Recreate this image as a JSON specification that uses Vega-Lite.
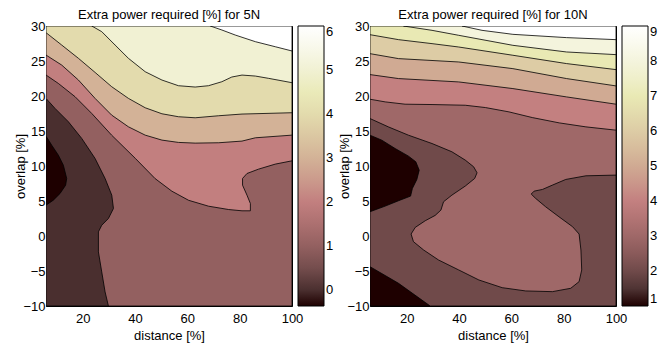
{
  "$schema": "https://vega.github.io/schema/vega-lite/v6.json",
  "padding": {"left": 14, "top": 8, "right": 0, "bottom": 0},
  "bounds": "flush",
  "spacing": 78,
  "config": {
    "font": "Liberation Sans",
    "view": {"stroke": "black", "strokeWidth": 1},
    "axis": {
      "labelFont": "Liberation Sans", "labelFontSize": 13, "labelColor": "black", "labelFlush": false,
      "titleFont": "Liberation Sans", "titleFontSize": 13, "titleFontWeight": "normal", "titleColor": "black",
      "grid": true, "gridColor": "black", "gridDash": [1, 3], "gridOpacity": 1, "gridWidth": 0.8,
      "domain": false, "ticks": true, "tickSize": -3, "tickColor": "black", "tickWidth": 0.8, "zindex": 1
    },
    "axisX": {"labelPadding": 9, "titlePadding": 4},
    "axisY": {"labelPadding": 4, "titleX": -18.5},
    "title": {"font": "Liberation Sans", "fontSize": 13, "fontWeight": "normal", "color": "black", "offset": -2},
    "legend": {
      "labelFont": "Liberation Sans", "labelFontSize": 13, "labelColor": "black", "labelBaseline": "middle",
      "gradientStrokeColor": "black", "gradientStrokeWidth": 1, "labelOverlap": false, "labelOffset": 4
    }
  },
  "datasets": {
    "p5": [
      {"id": "a0", "level": -0.36, "i": 0, "x": 6, "y": -10},
      {"id": "a0", "level": -0.36, "i": 1, "x": 100, "y": -10},
      {"id": "a0", "level": -0.36, "i": 2, "x": 100, "y": 30},
      {"id": "a0", "level": -0.36, "i": 3, "x": 6, "y": 30},

      {"id": "a1", "level": 0, "i": 0, "x": 6, "y": -10},
      {"id": "a1", "level": 0, "i": 1, "x": 100, "y": -10},
      {"id": "a1", "level": 0, "i": 2, "x": 100, "y": 30},
      {"id": "a1", "level": 0, "i": 3, "x": 6, "y": 30},
      {"id": "a1", "level": 0, "i": 4, "x": 6, "y": 14.27},
      {"id": "a1", "level": 0, "i": 5, "x": 8.17, "y": 12.98},
      {"id": "a1", "level": 0, "i": 6, "x": 10.72, "y": 11.55},
      {"id": "a1", "level": 0, "i": 7, "x": 12.63, "y": 10.12},
      {"id": "a1", "level": 0, "i": 8, "x": 13.9, "y": 8.22},
      {"id": "a1", "level": 0, "i": 9, "x": 13.5, "y": 7.26},
      {"id": "a1", "level": 0, "i": 10, "x": 11.36, "y": 6.07},
      {"id": "a1", "level": 0, "i": 11, "x": 8.8, "y": 5.12},
      {"id": "a1", "level": 0, "i": 12, "x": 6, "y": 4.4},

      {"id": "a2", "level": 1, "i": 0, "x": 6, "y": 19.66},
      {"id": "a2", "level": 1, "i": 1, "x": 9.44, "y": 18.23},
      {"id": "a2", "level": 1, "i": 2, "x": 14.55, "y": 16.32},
      {"id": "a2", "level": 1, "i": 3, "x": 19.65, "y": 13.94},
      {"id": "a2", "level": 1, "i": 4, "x": 24.75, "y": 11.08},
      {"id": "a2", "level": 1, "i": 5, "x": 28.58, "y": 8.22},
      {"id": "a2", "level": 1, "i": 6, "x": 31.13, "y": 5.83},
      {"id": "a2", "level": 1, "i": 7, "x": 31.77, "y": 3.93},
      {"id": "a2", "level": 1, "i": 8, "x": 29.85, "y": 2.5},
      {"id": "a2", "level": 1, "i": 9, "x": 27.3, "y": 1.54},
      {"id": "a2", "level": 1, "i": 10, "x": 26.03, "y": 0.59},
      {"id": "a2", "level": 1, "i": 11, "x": 26.03, "y": -2.27},
      {"id": "a2", "level": 1, "i": 12, "x": 27.3, "y": -5.13},
      {"id": "a2", "level": 1, "i": 13, "x": 28.58, "y": -7.99},
      {"id": "a2", "level": 1, "i": 14, "x": 29.85, "y": -10},
      {"id": "a2", "level": 1, "i": 15, "x": 100, "y": -10},
      {"id": "a2", "level": 1, "i": 16, "x": 100, "y": 30},
      {"id": "a2", "level": 1, "i": 17, "x": 6, "y": 30},

      {"id": "a3", "level": 2, "i": 0, "x": 6, "y": 23.0},
      {"id": "a3", "level": 2, "i": 1, "x": 10.7, "y": 21.8},
      {"id": "a3", "level": 2, "i": 2, "x": 17.1, "y": 19.9},
      {"id": "a3", "level": 2, "i": 3, "x": 23.5, "y": 17.5},
      {"id": "a3", "level": 2, "i": 4, "x": 31.1, "y": 14.4},
      {"id": "a3", "level": 2, "i": 5, "x": 40.1, "y": 11.1},
      {"id": "a3", "level": 2, "i": 6, "x": 47.7, "y": 8.2},
      {"id": "a3", "level": 2, "i": 7, "x": 54.1, "y": 6.4},
      {"id": "a3", "level": 2, "i": 8, "x": 60.5, "y": 5.1},
      {"id": "a3", "level": 2, "i": 9, "x": 68.1, "y": 4.26},
      {"id": "a3", "level": 2, "i": 10, "x": 75.8, "y": 3.78},
      {"id": "a3", "level": 2, "i": 11, "x": 80.9, "y": 3.6},
      {"id": "a3", "level": 2, "i": 12, "x": 84.1, "y": 3.6},
      {"id": "a3", "level": 2, "i": 13, "x": 84.1, "y": 4.64},
      {"id": "a3", "level": 2, "i": 14, "x": 82.8, "y": 5.83},
      {"id": "a3", "level": 2, "i": 15, "x": 81.1, "y": 7.26},
      {"id": "a3", "level": 2, "i": 16, "x": 81.1, "y": 8.22},
      {"id": "a3", "level": 2, "i": 17, "x": 82.8, "y": 8.93},
      {"id": "a3", "level": 2, "i": 18, "x": 87.2, "y": 9.55},
      {"id": "a3", "level": 2, "i": 19, "x": 93.6, "y": 10.27},
      {"id": "a3", "level": 2, "i": 20, "x": 100, "y": 10.74},
      {"id": "a3", "level": 2, "i": 21, "x": 100, "y": 30},
      {"id": "a3", "level": 2, "i": 22, "x": 6, "y": 30},

      {"id": "a4", "level": 3, "i": 0, "x": 6, "y": 25.85},
      {"id": "a4", "level": 3, "i": 1, "x": 12.0, "y": 24.42},
      {"id": "a4", "level": 3, "i": 2, "x": 18.4, "y": 22.28},
      {"id": "a4", "level": 3, "i": 3, "x": 24.75, "y": 19.66},
      {"id": "a4", "level": 3, "i": 4, "x": 31.1, "y": 17.27},
      {"id": "a4", "level": 3, "i": 5, "x": 37.5, "y": 15.6},
      {"id": "a4", "level": 3, "i": 6, "x": 43.9, "y": 14.41},
      {"id": "a4", "level": 3, "i": 7, "x": 50.3, "y": 13.7},
      {"id": "a4", "level": 3, "i": 8, "x": 56.6, "y": 13.37},
      {"id": "a4", "level": 3, "i": 9, "x": 63.0, "y": 13.27},
      {"id": "a4", "level": 3, "i": 10, "x": 72.0, "y": 13.32},
      {"id": "a4", "level": 3, "i": 11, "x": 80.9, "y": 13.56},
      {"id": "a4", "level": 3, "i": 12, "x": 86.0, "y": 14.03},
      {"id": "a4", "level": 3, "i": 13, "x": 100, "y": 14.41},
      {"id": "a4", "level": 3, "i": 14, "x": 100, "y": 30},
      {"id": "a4", "level": 3, "i": 15, "x": 6, "y": 30},

      {"id": "a5", "level": 4, "i": 0, "x": 6, "y": 29.05},
      {"id": "a5", "level": 4, "i": 1, "x": 12.0, "y": 27.28},
      {"id": "a5", "level": 4, "i": 2, "x": 18.4, "y": 25.38},
      {"id": "a5", "level": 4, "i": 3, "x": 24.75, "y": 23.37},
      {"id": "a5", "level": 4, "i": 4, "x": 31.1, "y": 21.33},
      {"id": "a5", "level": 4, "i": 5, "x": 37.5, "y": 19.66},
      {"id": "a5", "level": 4, "i": 6, "x": 43.9, "y": 18.32},
      {"id": "a5", "level": 4, "i": 7, "x": 50.3, "y": 17.46},
      {"id": "a5", "level": 4, "i": 8, "x": 56.6, "y": 17.04},
      {"id": "a5", "level": 4, "i": 9, "x": 63.0, "y": 16.89},
      {"id": "a5", "level": 4, "i": 10, "x": 72.0, "y": 17.18},
      {"id": "a5", "level": 4, "i": 11, "x": 80.9, "y": 17.42},
      {"id": "a5", "level": 4, "i": 12, "x": 100, "y": 17.61},
      {"id": "a5", "level": 4, "i": 13, "x": 100, "y": 30},
      {"id": "a5", "level": 4, "i": 14, "x": 6, "y": 30},

      {"id": "a6", "level": 5, "i": 0, "x": 23.5, "y": 30},
      {"id": "a6", "level": 5, "i": 1, "x": 27.3, "y": 29.19},
      {"id": "a6", "level": 5, "i": 2, "x": 32.4, "y": 27.28},
      {"id": "a6", "level": 5, "i": 3, "x": 37.5, "y": 25.38},
      {"id": "a6", "level": 5, "i": 4, "x": 43.9, "y": 23.47},
      {"id": "a6", "level": 5, "i": 5, "x": 50.3, "y": 22.28},
      {"id": "a6", "level": 5, "i": 6, "x": 56.6, "y": 21.47},
      {"id": "a6", "level": 5, "i": 7, "x": 63.0, "y": 21.28},
      {"id": "a6", "level": 5, "i": 8, "x": 68.1, "y": 21.47},
      {"id": "a6", "level": 5, "i": 9, "x": 73.2, "y": 22.04},
      {"id": "a6", "level": 5, "i": 10, "x": 77.0, "y": 22.71},
      {"id": "a6", "level": 5, "i": 11, "x": 80.9, "y": 22.99},
      {"id": "a6", "level": 5, "i": 12, "x": 86.0, "y": 22.85},
      {"id": "a6", "level": 5, "i": 13, "x": 91.1, "y": 22.52},
      {"id": "a6", "level": 5, "i": 14, "x": 100, "y": 21.9},
      {"id": "a6", "level": 5, "i": 15, "x": 100, "y": 30},

      {"id": "a7", "level": 6, "i": 0, "x": 68.8, "y": 30},
      {"id": "a7", "level": 6, "i": 1, "x": 73.2, "y": 29.43},
      {"id": "a7", "level": 6, "i": 2, "x": 78.3, "y": 28.71},
      {"id": "a7", "level": 6, "i": 3, "x": 86.0, "y": 27.76},
      {"id": "a7", "level": 6, "i": 4, "x": 93.6, "y": 27.04},
      {"id": "a7", "level": 6, "i": 5, "x": 100, "y": 26.43},
      {"id": "a7", "level": 6, "i": 6, "x": 100, "y": 30}
    ],
    "p10": [
      {"id": "b1", "level": 1, "i": 0, "x": 6, "y": -10},
      {"id": "b1", "level": 1, "i": 1, "x": 100, "y": -10},
      {"id": "b1", "level": 1, "i": 2, "x": 100, "y": 30},
      {"id": "b1", "level": 1, "i": 3, "x": 6, "y": 30},

      {"id": "b2", "level": 2, "i": 0, "x": 6, "y": -4.38},
      {"id": "b2", "level": 2, "i": 1, "x": 16.9, "y": -6.76},
      {"id": "b2", "level": 2, "i": 2, "x": 29.0, "y": -10},
      {"id": "b2", "level": 2, "i": 3, "x": 100, "y": -10},
      {"id": "b2", "level": 2, "i": 4, "x": 100, "y": 30},
      {"id": "b2", "level": 2, "i": 5, "x": 6, "y": 30},
      {"id": "b2", "level": 2, "i": 6, "x": 6, "y": 14.4},
      {"id": "b2", "level": 2, "i": 7, "x": 10.5, "y": 13.69},
      {"id": "b2", "level": 2, "i": 8, "x": 15.6, "y": 12.5},
      {"id": "b2", "level": 2, "i": 9, "x": 20.7, "y": 11.41},
      {"id": "b2", "level": 2, "i": 10, "x": 23.5, "y": 10.6},
      {"id": "b2", "level": 2, "i": 11, "x": 24.8, "y": 9.41},
      {"id": "b2", "level": 2, "i": 12, "x": 23.9, "y": 8.08},
      {"id": "b2", "level": 2, "i": 13, "x": 22.2, "y": 6.8},
      {"id": "b2", "level": 2, "i": 14, "x": 21.5, "y": 5.7},
      {"id": "b2", "level": 2, "i": 15, "x": 16.9, "y": 5.04},
      {"id": "b2", "level": 2, "i": 16, "x": 11.8, "y": 4.27},
      {"id": "b2", "level": 2, "i": 17, "x": 6, "y": 3.47},

      {"id": "b3", "level": 3, "i": 0, "x": 6, "y": 16.78},
      {"id": "b3", "level": 3, "i": 1, "x": 13.0, "y": 15.59},
      {"id": "b3", "level": 3, "i": 2, "x": 20.7, "y": 14.4},
      {"id": "b3", "level": 3, "i": 3, "x": 29.7, "y": 13.21},
      {"id": "b3", "level": 3, "i": 4, "x": 37.3, "y": 12.03},
      {"id": "b3", "level": 3, "i": 5, "x": 42.4, "y": 10.84},
      {"id": "b3", "level": 3, "i": 6, "x": 45.6, "y": 9.89},
      {"id": "b3", "level": 3, "i": 7, "x": 46.9, "y": 9.03},
      {"id": "b3", "level": 3, "i": 8, "x": 46.0, "y": 8.22},
      {"id": "b3", "level": 3, "i": 9, "x": 42.4, "y": 7.13},
      {"id": "b3", "level": 3, "i": 10, "x": 37.3, "y": 5.84},
      {"id": "b3", "level": 3, "i": 11, "x": 34.1, "y": 4.89},
      {"id": "b3", "level": 3, "i": 12, "x": 33.1, "y": 3.7},
      {"id": "b3", "level": 3, "i": 13, "x": 30.9, "y": 2.94},
      {"id": "b3", "level": 3, "i": 14, "x": 27.1, "y": 2.18},
      {"id": "b3", "level": 3, "i": 15, "x": 23.3, "y": 1.23},
      {"id": "b3", "level": 3, "i": 16, "x": 21.7, "y": 0.28},
      {"id": "b3", "level": 3, "i": 17, "x": 22.6, "y": -0.81},
      {"id": "b3", "level": 3, "i": 18, "x": 26.5, "y": -2.0},
      {"id": "b3", "level": 3, "i": 19, "x": 32.2, "y": -3.43},
      {"id": "b3", "level": 3, "i": 20, "x": 39.9, "y": -4.85},
      {"id": "b3", "level": 3, "i": 21, "x": 47.6, "y": -6.28},
      {"id": "b3", "level": 3, "i": 22, "x": 56.5, "y": -7.38},
      {"id": "b3", "level": 3, "i": 23, "x": 65.5, "y": -7.85},
      {"id": "b3", "level": 3, "i": 24, "x": 75.7, "y": -7.95},
      {"id": "b3", "level": 3, "i": 25, "x": 82.7, "y": -7.47},
      {"id": "b3", "level": 3, "i": 26, "x": 85.9, "y": -6.52},
      {"id": "b3", "level": 3, "i": 27, "x": 86.9, "y": -4.85},
      {"id": "b3", "level": 3, "i": 28, "x": 86.6, "y": -2.0},
      {"id": "b3", "level": 3, "i": 29, "x": 85.9, "y": 0.28},
      {"id": "b3", "level": 3, "i": 30, "x": 83.4, "y": 1.33},
      {"id": "b3", "level": 3, "i": 31, "x": 78.2, "y": 2.75},
      {"id": "b3", "level": 3, "i": 32, "x": 73.1, "y": 4.18},
      {"id": "b3", "level": 3, "i": 33, "x": 69.3, "y": 5.37},
      {"id": "b3", "level": 3, "i": 34, "x": 67.6, "y": 5.99},
      {"id": "b3", "level": 3, "i": 35, "x": 68.7, "y": 6.41},
      {"id": "b3", "level": 3, "i": 36, "x": 71.9, "y": 6.65},
      {"id": "b3", "level": 3, "i": 37, "x": 75.7, "y": 7.27},
      {"id": "b3", "level": 3, "i": 38, "x": 80.8, "y": 8.08},
      {"id": "b3", "level": 3, "i": 39, "x": 88.5, "y": 8.6},
      {"id": "b3", "level": 3, "i": 40, "x": 100, "y": 8.7},
      {"id": "b3", "level": 3, "i": 41, "x": 100, "y": 30},
      {"id": "b3", "level": 3, "i": 42, "x": 6, "y": 30},

      {"id": "b4", "level": 4, "i": 0, "x": 6, "y": 19.54},
      {"id": "b4", "level": 4, "i": 1, "x": 11.8, "y": 19.16},
      {"id": "b4", "level": 4, "i": 2, "x": 19.4, "y": 18.83},
      {"id": "b4", "level": 4, "i": 3, "x": 29.7, "y": 18.78},
      {"id": "b4", "level": 4, "i": 4, "x": 42.4, "y": 18.68},
      {"id": "b4", "level": 4, "i": 5, "x": 50.1, "y": 18.35},
      {"id": "b4", "level": 4, "i": 6, "x": 59.1, "y": 17.73},
      {"id": "b4", "level": 4, "i": 7, "x": 68.0, "y": 16.92},
      {"id": "b4", "level": 4, "i": 8, "x": 78.3, "y": 16.16},
      {"id": "b4", "level": 4, "i": 9, "x": 88.5, "y": 15.59},
      {"id": "b4", "level": 4, "i": 10, "x": 100, "y": 15.12},
      {"id": "b4", "level": 4, "i": 11, "x": 100, "y": 30},
      {"id": "b4", "level": 4, "i": 12, "x": 6, "y": 30},

      {"id": "b5", "level": 5, "i": 0, "x": 6, "y": 23.06},
      {"id": "b5", "level": 5, "i": 1, "x": 16.9, "y": 22.49},
      {"id": "b5", "level": 5, "i": 2, "x": 39.9, "y": 22.01},
      {"id": "b5", "level": 5, "i": 3, "x": 60.6, "y": 21.06},
      {"id": "b5", "level": 5, "i": 4, "x": 81.1, "y": 19.87},
      {"id": "b5", "level": 5, "i": 5, "x": 100, "y": 18.83},
      {"id": "b5", "level": 5, "i": 6, "x": 100, "y": 30},
      {"id": "b5", "level": 5, "i": 7, "x": 6, "y": 30},

      {"id": "b6", "level": 6, "i": 0, "x": 6, "y": 26.05},
      {"id": "b6", "level": 6, "i": 1, "x": 16.9, "y": 25.34},
      {"id": "b6", "level": 6, "i": 2, "x": 39.9, "y": 24.86},
      {"id": "b6", "level": 6, "i": 3, "x": 60.6, "y": 23.91},
      {"id": "b6", "level": 6, "i": 4, "x": 81.1, "y": 22.49},
      {"id": "b6", "level": 6, "i": 5, "x": 100, "y": 21.44},
      {"id": "b6", "level": 6, "i": 6, "x": 100, "y": 30},
      {"id": "b6", "level": 6, "i": 7, "x": 6, "y": 30},

      {"id": "b7", "level": 7, "i": 0, "x": 6, "y": 28.76},
      {"id": "b7", "level": 7, "i": 1, "x": 16.9, "y": 28.05},
      {"id": "b7", "level": 7, "i": 2, "x": 29.7, "y": 27.48},
      {"id": "b7", "level": 7, "i": 3, "x": 39.9, "y": 27.0},
      {"id": "b7", "level": 7, "i": 4, "x": 60.6, "y": 25.82},
      {"id": "b7", "level": 7, "i": 5, "x": 81.1, "y": 24.63},
      {"id": "b7", "level": 7, "i": 6, "x": 100, "y": 23.77},
      {"id": "b7", "level": 7, "i": 7, "x": 100, "y": 30},
      {"id": "b7", "level": 7, "i": 8, "x": 6, "y": 30},

      {"id": "b8", "level": 8, "i": 0, "x": 18.8, "y": 30},
      {"id": "b8", "level": 8, "i": 1, "x": 29.7, "y": 29.38},
      {"id": "b8", "level": 8, "i": 2, "x": 39.9, "y": 28.67},
      {"id": "b8", "level": 8, "i": 3, "x": 60.6, "y": 27.24},
      {"id": "b8", "level": 8, "i": 4, "x": 81.1, "y": 26.29},
      {"id": "b8", "level": 8, "i": 5, "x": 100, "y": 25.91},
      {"id": "b8", "level": 8, "i": 6, "x": 100, "y": 30},

      {"id": "b9", "level": 9, "i": 0, "x": 41.2, "y": 30},
      {"id": "b9", "level": 9, "i": 1, "x": 48.8, "y": 29.38},
      {"id": "b9", "level": 9, "i": 2, "x": 60.6, "y": 28.81},
      {"id": "b9", "level": 9, "i": 3, "x": 81.1, "y": 28.34},
      {"id": "b9", "level": 9, "i": 4, "x": 100, "y": 28.05},
      {"id": "b9", "level": 9, "i": 5, "x": 100, "y": 30}
    ]
  },
  "hconcat": [
    {
      "width": 246, "height": 280,
      "title": "Extra power required [%] for 5N",
      "data": {"name": "p5"},
      "mark": {"type": "line", "interpolate": "linear-closed", "stroke": "black", "strokeWidth": 0.8, "clip": true},
      "encoding": {
        "x": {"field": "x", "type": "quantitative", "scale": {"domain": [6, 100], "nice": false, "zero": false}, "axis": {"values": [20, 40, 60, 80, 100], "title": "distance [%]"}},
        "y": {"field": "y", "type": "quantitative", "scale": {"domain": [-10, 30], "nice": false, "zero": false}, "axis": {"values": [-10, -5, 0, 5, 10, 15, 20, 25, 30], "title": "overlap [%]"}},
        "detail": {"field": "id"},
        "order": {"field": "i", "type": "quantitative"},
        "fill": {
          "field": "level", "type": "quantitative",
          "scale": {"domain": [-0.36, 6], "nice": false, "zero": false, "interpolate": "rgb",
            "range": ["#1e0000", "#4f3434", "#704a4a", "#8a5a5a", "#9f6868", "#b27474", "#c38080", "#ca968a", "#d0aa93", "#d7bc9c", "#ddcca5", "#e3dbad", "#e9e9b4", "#efefca", "#f4f4dd", "#fafaee", "#ffffff"]},
          "legend": {"title": null, "orient": "none", "legendX": 252, "legendY": 0, "gradientLength": 280, "gradientThickness": 26, "values": [0, 1, 2, 3, 4, 5, 6]}
        }
      }
    },
    {
      "width": 246, "height": 280,
      "title": "Extra power required [%] for 10N",
      "data": {"name": "p10"},
      "mark": {"type": "line", "interpolate": "linear-closed", "stroke": "black", "strokeWidth": 0.8, "clip": true},
      "encoding": {
        "x": {"field": "x", "type": "quantitative", "scale": {"domain": [6, 100], "nice": false, "zero": false}, "axis": {"values": [20, 40, 60, 80, 100], "title": "distance [%]"}},
        "y": {"field": "y", "type": "quantitative", "scale": {"domain": [-10, 30], "nice": false, "zero": false}, "axis": {"values": [-10, -5, 0, 5, 10, 15, 20, 25, 30], "title": "overlap [%]"}},
        "detail": {"field": "id"},
        "order": {"field": "i", "type": "quantitative"},
        "fill": {
          "field": "level", "type": "quantitative",
          "scale": {"domain": [1, 9], "nice": false, "zero": false, "interpolate": "rgb",
            "range": ["#1e0000", "#4f3434", "#704a4a", "#8a5a5a", "#9f6868", "#b27474", "#c38080", "#ca968a", "#d0aa93", "#d7bc9c", "#ddcca5", "#e3dbad", "#e9e9b4", "#efefca", "#f4f4dd", "#fafaee", "#ffffff"]},
          "legend": {"title": null, "orient": "none", "legendX": 252, "legendY": 0, "gradientLength": 280, "gradientThickness": 26, "values": [1, 2, 3, 4, 5, 6, 7, 8, 9]}
        }
      }
    }
  ],
  "resolve": {"scale": {"fill": "independent"}, "legend": {"fill": "independent"}}
}
